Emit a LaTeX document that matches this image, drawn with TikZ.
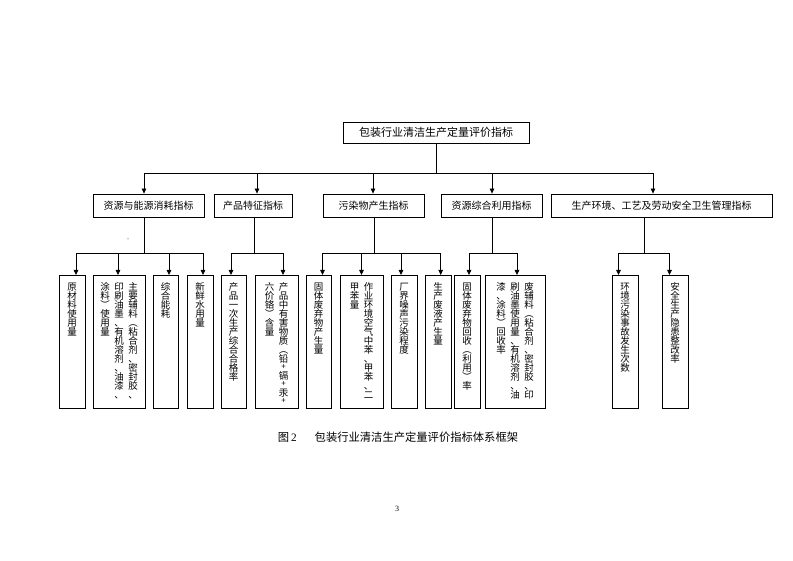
\documentclass[tikz,border=0pt]{standalone}
\usepackage{fontspec}
\setmainfont{Liberation Serif}
\newfontfamily\cjk{Noto Sans CJK SC}
\usepackage{tikz}
\usetikzlibrary{arrows.meta}
\def\vcolchar#1{\ifx+#1\hbox to 1em{\vrule height 6.5pt depth 1.5pt width 0pt\hss\smash{\fontsize{8}{8}\selectfont\raise0.5pt\hbox{#1}}\hss}\else\hbox to 1em{\vrule height 7.9pt depth 1.1pt width 0pt\hss\smash{#1}\hss}\fi}
\def\vcolloop#1{\ifx\relax#1\else\vcolchar{#1}\expandafter\vcolloop\fi}
\def\vcol#1{\vtop{\offinterlineskip\vcolloop#1\relax}}
\def\vgap{\hskip 4.5pt}
\def\cell#1{\vbox to 119pt{\hbox{#1}\vss}}
\tikzset{
	box/.style={draw, line width=0.8pt, inner sep=0pt, font=\cjk\fontsize{10}{12}\selectfont},
	cell/.style={draw, line width=0.8pt, anchor=north, inner xsep=1pt, inner ysep=7pt, minimum height=133pt, font=\cjk\fontsize{9.5}{9.5}\selectfont},
	link/.style={line width=0.8pt},
	arr/.style={line width=0.8pt, -{Triangle[width=4.5pt,length=5pt]}}
}

\begin{document}
\begin{tikzpicture}[x=1pt, y=-1pt]
		%%%%% START %%%%%
		\useasboundingbox (0,0) rectangle (793,561);
		
		\node[box, minimum width=186pt, minimum height=21pt, font=\cjk\fontsize{11}{13}\selectfont] (top) at (436,132.5) {包装行业清洁生产定量评价指标};
		
		\node[box, minimum width=111pt, minimum height=23pt] (g1) at (148.5,205.5) {资源与能源消耗指标};
		\node[box, minimum width=78pt, minimum height=23pt] (g2) at (253,205.5) {产品特征指标};
		\node[box, minimum width=101pt, minimum height=23pt] (g3) at (373.5,205.5) {污染物产生指标};
		\node[box, minimum width=101pt, minimum height=23pt] (g4) at (491.5,205.5) {资源综合利用指标};
		\node[box, minimum width=221pt, minimum height=23pt] (g5) at (661.5,205.5) {生产环境、工艺及劳动安全卫生管理指标};
		
		\node[cell, minimum width=26pt] (c11) at (72,275) {\cell{\vcol{原材料使用量}}};
		\node[cell, minimum width=52pt] (c12) at (119,275) {\cell{\vcol{涂料︶使用量}\vgap\vcol{印刷油墨、有机溶剂、油漆、}\vgap\vcol{主要辅料︵粘合剂、密封胶、}}};
		\node[cell, minimum width=25pt] (c13) at (165.5,275) {\cell{\vcol{综合能耗}}};
		\node[cell, minimum width=26pt] (c14) at (200,275) {\cell{\vcol{新鲜水用量}}};
		\node[cell, minimum width=25pt] (c21) at (233.5,275) {\cell{\vcol{产品一次生产综合合格率}}};
		\node[cell, minimum width=43pt] (c22) at (276.5,275) {\cell{\vcol{六价铬︶含量}\vgap\vcol{产品中有害物质︵铅+镉+汞+}}};
		\node[cell, minimum width=25pt] (c31) at (318.5,275) {\cell{\vcol{固体废弃物产生量}}};
		\node[cell, minimum width=43pt] (c32) at (361.5,275) {\cell{\vcol{甲苯量}\vgap\vcol{作业环境空气中苯、甲苯、二}}};
		\node[cell, minimum width=26pt] (c33) at (404,275) {\cell{\vcol{厂界噪声污染程度}}};
		\node[cell, minimum width=26pt] (c34) at (438,275) {\cell{\vcol{生产废液产生量}}};
		\node[cell, minimum width=26pt] (c41) at (467,275) {\cell{\vcol{固体废弃物回收︵利用︶率}}};
		\node[cell, minimum width=60pt] (c42) at (515,275) {\cell{\vcol{漆、涂料︶回收率}\vgap\vcol{刷油墨使用量、有机溶剂、油}\vgap\vcol{废辅料︵粘合剂、密封胶、印}}};
		\node[cell, minimum width=26pt] (c51) at (625,275) {\cell{\vcol{环境污染事故发生次数}}};
		\node[cell, minimum width=26pt] (c52) at (675,275) {\cell{\vcol{安全生产隐患整改率}}};
		
		% junctions
		\coordinate (jt) at (436,173);
		\coordinate (j1) at (144,253);
		\coordinate (j2) at (254,253);
		\coordinate (j3) at (374,253);
		\coordinate (j4) at (492,253);
		\coordinate (j5) at (644,253);
		
		\draw[link] (top.south) -- (jt);
		\draw[arr] (jt) -| ([xshift=-4.5pt]g1.north);
		\draw[arr] (jt) -| ([xshift=4pt]g2.north);
		\draw[arr] (jt) -| ([xshift=-0.5pt]g3.north);
		\draw[arr] (jt) -| ([xshift=0.5pt]g4.north);
		\draw[arr] (jt) -| ([xshift=-8.5pt]g5.north);
		
		\draw[link] (j1 |- g1.south) -- (j1);
		\draw[arr] (j1) -| ([xshift=4pt]c11.north);
		\draw[arr] (j1) -| ([xshift=-1pt]c12.north);
		\draw[arr] (j1) -| ([xshift=3.5pt]c13.north);
		\draw[arr] (j1) -| ([xshift=3pt]c14.north);
		
		\draw[link] (j2 |- g2.south) -- (j2);
		\draw[arr] (j2) -| ([xshift=-2.5pt]c21.north);
		\draw[arr] (j2) -| ([xshift=6.5pt]c22.north);
		
		\draw[link] (j3 |- g3.south) -- (j3);
		\draw[arr] (j3) -| ([xshift=4pt]c31.north);
		\draw[arr] (j3) -| (c32.north);
		\draw[arr] (j3) -| ([xshift=-3pt]c33.north);
		\draw[arr] (j3) -| ([xshift=2.7pt]c34.north);
		
		\draw[link] (j4 |- g4.south) -- (j4);
		\draw[arr] (j4) -| ([xshift=2pt]c41.north);
		\draw[arr] (j4) -| ([xshift=2pt]c42.north);
		
		\draw[link] (j5 |- g5.south) -- (j5);
		\draw[arr] (j5) -| ([xshift=-6.5pt]c51.north);
		\draw[arr] (j5) -| ([xshift=-5.5pt]c52.north);
		
		\fill (128,239) circle (0.5pt);
		
		\node[font=\fontsize{11.3}{13}\selectfont] (cap) at (398,437) {{\cjk 图}\,2\hskip 18pt{\cjk 包装行业清洁生产定量评价指标体系框架}};
		\node[font=\fontsize{8}{9}\selectfont] (pg) at (397,509) {3};
		%%%%% END %%%%%
	\end{tikzpicture}
\end{document}
